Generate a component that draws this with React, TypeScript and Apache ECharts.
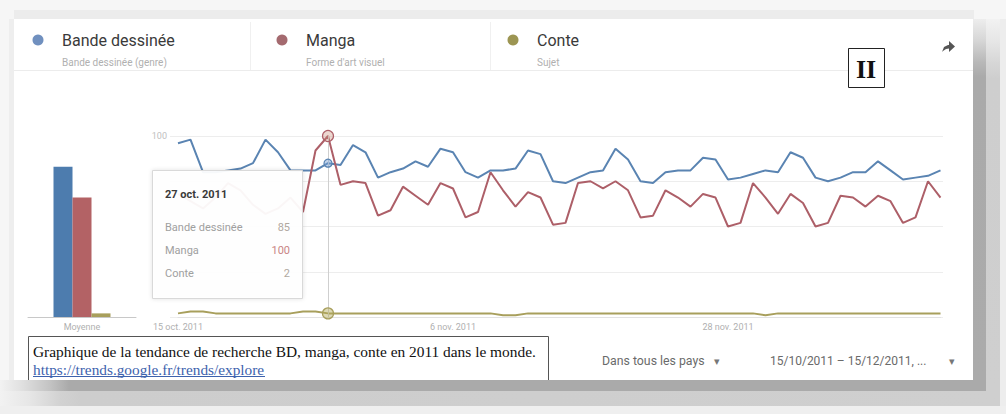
import React, { useEffect, useRef } from "react";
import * as echarts from "echarts";

// ---- data ----
const seriesNames = ["Bande dessinée", "Manga", "Conte"];
const seriesSubtitles = ["Bande dessinée (genre)", "Forme d'art visuel", "Sujet"];
const averageLabel = "Moyenne";
const averages = [83, 66, 2];

const monthSegments: [string, number, number][] = [
  ["oct.", 15, 31],
  ["nov.", 1, 30],
  ["déc.", 1, 15],
];
const dates: string[] = [];
monthSegments.forEach(([m, a, b]) => {
  for (let d = a; d <= b; d++) dates.push(`${d} ${m} 2011`);
});
const tickIndices = [0, 22, 44];
const highlightIndex = 12;

const bandeDessinee = [
  96, 98, 80, 80, 81, 82, 85, 98, 91, 81,
  81, 81, 85, 84, 95, 91, 77, 80, 82, 86,
  83, 93, 91, 80, 77, 81, 81, 82, 92, 90,
  75, 74, 77, 80, 81, 93, 87, 75, 74, 80,
  81, 81, 88, 87, 76, 77, 79, 81, 80, 91,
  88, 77, 75, 77, 80, 80, 86, 81, 76, 77,
  78, 81,
];
const manga = [
  68, 64, 60, 66, 74, 70, 62, 57, 60, 66,
  58, 92, 100, 73, 75, 74, 56, 59, 72, 67,
  62, 74, 71, 55, 58, 80, 70, 61, 69, 66,
  51, 52, 74, 75, 71, 75, 70, 55, 56, 70,
  66, 61, 68, 66, 50, 52, 74, 66, 57, 68,
  63, 50, 52, 67, 66, 61, 67, 64, 52, 55,
  75, 66,
];
const conte = [
  2, 3, 3, 2, 2, 2, 2, 2, 2, 2,
  3, 3, 2, 2, 2, 2, 2, 2, 2, 2,
  2, 2, 2, 2, 2, 2, 1, 1, 2, 2,
  2, 2, 2, 2, 2, 2, 2, 2, 2, 2,
  2, 2, 2, 2, 2, 2, 2, 1, 2, 2,
  2, 2, 2, 2, 2, 2, 2, 2, 2, 2,
  2, 2,
];
const allSeries = [bandeDessinee, manga, conte];

const lineColors = ["#5a84b2", "#ad5f68", "#a89f5c"];
const barColors = ["#4d7cae", "#b36265", "#a89f5c"];
const dotColors = ["#7090bf", "#a46a6f", "#9c9552"];
const markFill = ["rgba(120,160,210,0.45)", "rgba(200,140,120,0.35)", "rgba(180,170,90,0.45)"];

const caption = "Graphique de la tendance de recherche BD, manga, conte en 2011 dans le monde.";
const link = "https://trends.google.fr/trends/explore";
const regionLabel = "Dans tous les pays";
const rangeLabel = "15/10/2011 – 15/12/2011, ...";

const SANS = "Roboto, 'Noto Sans', sans-serif";
const SERIF = "'Liberation Serif', 'Times New Roman', serif";

function txt(x: number, y: number, text: string, o: any = {}) {
  const align = o.align || "left";
  return {
    type: "text",
    x,
    y,
    z: o.z ?? 10,
    style: {
      text,
      fill: o.fill || "#333",
      fontSize: o.size || 12,
      fontFamily: o.family || SANS,
      fontWeight: o.weight || "normal",
      align,
      textAlign: align,
      verticalAlign: "middle",
      textVerticalAlign: "middle",
    },
  };
}

export default function App() {
  const ref = useRef<HTMLDivElement>(null);
  useEffect(() => {
    if (!ref.current) return;
    const chart = echarts.init(ref.current, undefined, { renderer: "svg" });

    const legendX = [38, 282, 513];
    const legendEls: any[] = [];
    seriesNames.forEach((n, i) => {
      legendEls.push({
        type: "circle",
        z: 10,
        shape: { cx: legendX[i], cy: 40, r: 5.5 },
        style: { fill: dotColors[i] },
      });
      legendEls.push(txt(legendX[i] + 24, 40, n, { size: 16, fill: "#3a3a3a" }));
      legendEls.push(txt(legendX[i] + 24, 62, seriesSubtitles[i], { size: 10, fill: "#b0b0b0" }));
    });

    const tipRows = seriesNames.map((n, i) => [
      txt(165, 227 + i * 23, n, { size: 11, fill: "#a0a0a0", z: 51 }),
      txt(290, 227 + i * 23, String(allSeries[i][highlightIndex]), {
        size: 11,
        fill: i === 1 ? "#c98585" : "#b0a8a0",
        align: "right",
        z: 51,
      }),
    ]).flat();

    const option: any = {
      animation: false,
      backgroundColor: "#f6f6f6",
      textStyle: { fontFamily: SANS },
      grid: [
        { left: 28, width: 108, top: 136, height: 181 },
        { left: 178, width: 762.5, top: 136, height: 181 },
        { left: 170, width: 773, top: 136, height: 181 },
      ],
      xAxis: [
        {
          type: "category",
          gridIndex: 0,
          data: [averageLabel],
          axisLine: { lineStyle: { color: "#c8c8c8" } },
          axisTick: { show: false },
          axisLabel: { color: "#b0b0b0", fontSize: 9, margin: 5 },
        },
        {
          type: "category",
          gridIndex: 1,
          data: dates,
          boundaryGap: false,
          axisLine: { show: true, lineStyle: { color: "#e2e2e2" } },
          axisTick: { show: false },
          axisLabel: {
            interval: (i: number) => tickIndices.includes(i),
            color: "#b0b0b0",
            fontSize: 9,
            margin: 5,
          },
        },
        { type: "value", gridIndex: 2, min: 0, max: 1, show: false },
      ],
      yAxis: [
        { type: "value", gridIndex: 0, min: 0, max: 100, show: false },
        {
          type: "value",
          gridIndex: 1,
          min: 0,
          max: 100,
          interval: 25,
          axisLabel: { show: false },
          splitLine: { show: false },
          axisLine: { show: false },
          axisTick: { show: false },
        },
        {
          type: "value",
          gridIndex: 2,
          min: 0,
          max: 100,
          interval: 25,
          axisLine: { show: false },
          axisTick: { show: false },
          axisLabel: {
            formatter: (v: number) => (v === 100 ? "100" : ""),
            color: "#c0c0c0",
            fontSize: 9,
            margin: 3,
          },
          splitLine: { lineStyle: { color: "#ededed" } },
        },
      ],
      series: [
        ...seriesNames.map((n, i) => ({
          name: n,
          type: "bar",
          xAxisIndex: 0,
          yAxisIndex: 0,
          barWidth: 19,
          barGap: "0%",
          data: [averages[i]],
          itemStyle: { color: barColors[i] },
          silent: true,
        })),
        ...seriesNames.map((n, i) => ({
          name: n,
          type: "line",
          xAxisIndex: 1,
          yAxisIndex: 1,
          data: allSeries[i],
          symbol: "none",
          showSymbol: false,
          lineStyle: { color: lineColors[i], width: 2 },
          itemStyle: { color: lineColors[i] },
          z: i === 2 ? 4 : 3,
          markLine:
            i === 0
              ? {
                  silent: true,
                  symbol: "none",
                  label: { show: false },
                  lineStyle: { color: "#cfcfcf", width: 1, type: "solid" },
                  data: [{ xAxis: dates[highlightIndex] }],
                }
              : undefined,
          markPoint: {
            silent: true,
            symbol: "circle",
            symbolSize: i === 0 ? 8 : 11,
            label: { show: false },
            itemStyle: {
              color: markFill[i],
              borderColor: lineColors[i],
              borderWidth: 1.2,
            },
            data: [{ coord: [dates[highlightIndex], allSeries[i][highlightIndex]] }],
          },
        })),
      ],
      graphic: {
        elements: [
          // frame
          { type: "rect", z: 0, shape: { x: 14, y: 10, width: 960, height: 9 }, style: { fill: "#ececec" } },
          { type: "rect", z: 0, shape: { x: 9, y: 19, width: 5, height: 362 }, style: { fill: "#eeeeee" } },
          { type: "rect", z: 0, shape: { x: 14, y: 19, width: 959, height: 362 }, style: { fill: "#ffffff" } },
          { type: "line", z: 1, shape: { x1: 14, y1: 70.5, x2: 973, y2: 70.5 }, style: { stroke: "#ececec", lineWidth: 1 } },
          { type: "line", z: 1, shape: { x1: 250.5, y1: 22, x2: 250.5, y2: 70 }, style: { stroke: "#f0f0f0", lineWidth: 1 } },
          { type: "line", z: 1, shape: { x1: 490.5, y1: 22, x2: 490.5, y2: 70 }, style: { stroke: "#f0f0f0", lineWidth: 1 } },
          ...legendEls,
          // II box
          { type: "rect", z: 10, shape: { x: 848.5, y: 48.5, width: 36, height: 39 }, style: { fill: "#ffffff", stroke: "#222", lineWidth: 1 } },
          txt(866, 69, "II", { size: 26, family: SERIF, weight: "bold", fill: "#111", align: "center" }),
          // share icon
          {
            type: "polygon",
            z: 10,
            shape: {
              points: [
                [942, 52], [944, 47], [948, 45], [949, 45], [949, 41], [955, 46.5],
                [949, 52], [949, 48.5], [946, 49], [943, 51],
              ],
            },
            style: { fill: "#555" },
          },
          // tooltip
          {
            type: "rect",
            z: 50,
            shape: { x: 152.5, y: 170.5, width: 150, height: 128 },
            style: {
              fill: "rgba(255,255,255,0.94)",
              stroke: "#d9d9d9",
              lineWidth: 1,
              shadowBlur: 4,
              shadowColor: "rgba(0,0,0,0.12)",
            },
          },
          txt(165, 194, dates[highlightIndex], { size: 11, weight: "bold", fill: "#3a3a3a", z: 51 }),
          ...tipRows,
          // caption
          { type: "rect", z: 20, shape: { x: 28.5, y: 336.5, width: 520, height: 50 }, style: { fill: "#ffffff", stroke: "#555", lineWidth: 1 } },
          txt(33, 351, caption, { size: 15.4, family: SERIF, fill: "#111", z: 21 }),
          txt(33, 369, link, { size: 15.3, family: SERIF, fill: "#3d62ad", z: 21 }),
          { type: "line", z: 21, shape: { x1: 33, y1: 376.5, x2: 265, y2: 376.5 }, style: { stroke: "#3d62ad", lineWidth: 1 } },
          // controls
          txt(602, 361, regionLabel, { size: 12.3, fill: "#6a6a6a" }),
          txt(717, 361, "▾", { size: 11, fill: "#777", align: "center" }),
          txt(770, 361, rangeLabel, { size: 12, fill: "#6a6a6a" }),
          txt(952, 361, "▾", { size: 11, fill: "#777", align: "center" }),
          // shadows
          {
            type: "rect",
            z: 60,
            shape: { x: 973, y: 19, width: 13, height: 361 },
            style: {
              fill: {
                type: "linear", x: 0, y: 0, x2: 0, y2: 1,
                colorStops: [
                  { offset: 0, color: "#ededed" },
                  { offset: 0.06, color: "#d6d6d6" },
                  { offset: 0.12, color: "#b8b8b8" },
                  { offset: 0.16, color: "#aaaaaa" },
                  { offset: 1, color: "#ababab" },
                ],
              },
            },
          },
          {
            type: "rect",
            z: 60,
            shape: { x: 986, y: 19, width: 14, height: 372 },
            style: {
              fill: {
                type: "linear", x: 0, y: 0, x2: 0, y2: 1,
                colorStops: [
                  { offset: 0, color: "#f2f2f2" },
                  { offset: 0.06, color: "#e6e6e6" },
                  { offset: 0.12, color: "#d6d6d6" },
                  { offset: 0.16, color: "#cecece" },
                  { offset: 1, color: "#cfcfcf" },
                ],
              },
            },
          },
          { type: "rect", z: 60, shape: { x: 1000, y: 19, width: 6, height: 395 }, style: { fill: "#ededed" } },
          {
            type: "rect",
            z: 60,
            shape: { x: 0, y: 380, width: 986, height: 11 },
            style: {
              fill: {
                type: "linear", x: 0, y: 0, x2: 1, y2: 0,
                colorStops: [
                  { offset: 0, color: "#f2f2f2" },
                  { offset: 0.02, color: "#e2e2e2" },
                  { offset: 0.05, color: "#c4c4c4" },
                  { offset: 0.07, color: "#aaaaaa" },
                  { offset: 1, color: "#aaaaaa" },
                ],
              },
            },
          },
          {
            type: "rect",
            z: 60,
            shape: { x: 0, y: 391, width: 1000, height: 15 },
            style: {
              fill: {
                type: "linear", x: 0, y: 0, x2: 1, y2: 0,
                colorStops: [
                  { offset: 0, color: "#f2f2f2" },
                  { offset: 0.03, color: "#e6e6e6" },
                  { offset: 0.06, color: "#d2d2d2" },
                  { offset: 0.08, color: "#cdcdcd" },
                  { offset: 1, color: "#cfcfcf" },
                ],
              },
            },
          },
          { type: "rect", z: 60, shape: { x: 0, y: 406, width: 1006, height: 8 }, style: { fill: "#efefef" } },
        ],
      },
    };

    chart.setOption(option);
    return () => chart.dispose();
  }, []);

  return (
    <div
      ref={ref}
      style={{ position: "fixed", left: 0, top: 0, width: 1006, height: 414 }}
    />
  );
}
